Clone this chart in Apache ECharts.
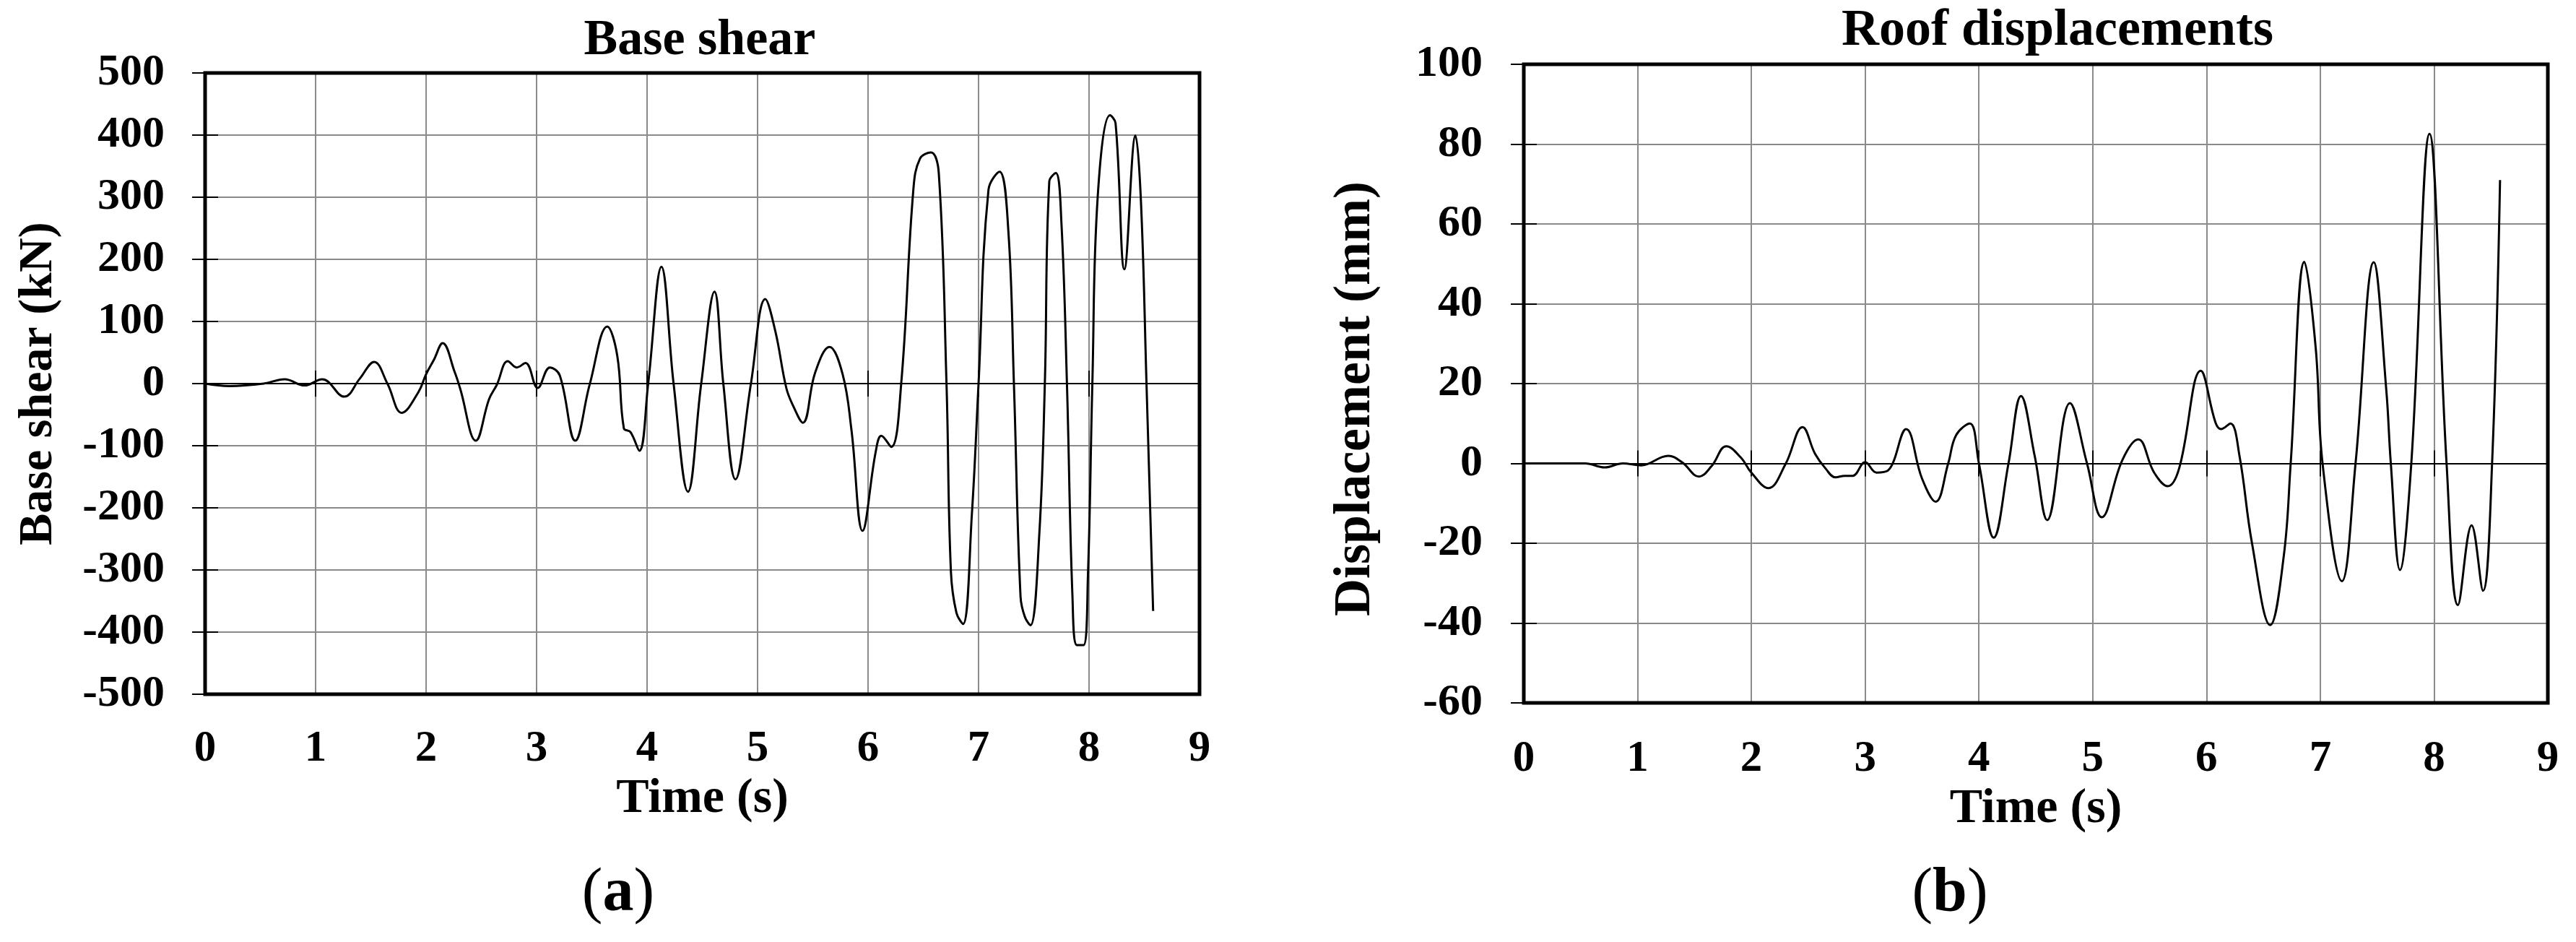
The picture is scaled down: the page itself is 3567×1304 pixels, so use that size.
<!DOCTYPE html>
<html>
<head>
<meta charset="utf-8">
<script src="https://cdn.jsdelivr.net/npm/echarts@6/dist/echarts.min.js"></script>
<style>
html,body{margin:0;padding:0;background:#fff;}
#chart{width:3567px;height:1304px;}
</style>
</head>
<body>
<div id="chart"></div>
<script>
// ---- Data ----
var shearTime = [0, 0.22, 0.53, 0.72, 0.9, 1.06, 1.26, 1.4, 1.53, 1.65, 1.78, 1.93, 2.0, 2.07, 2.15, 2.26, 2.31, 2.45, 2.57, 2.64, 2.74, 2.82, 2.9, 3.01, 3.12, 3.21, 3.35, 3.48, 3.64, 3.73, 3.79, 3.85, 3.93, 4.01, 4.13, 4.24, 4.37, 4.49, 4.61, 4.69, 4.80, 4.94, 5.07, 5.16, 5.26, 5.32, 5.41, 5.52, 5.65, 5.77, 5.85, 5.95, 6.07, 6.12, 6.21, 6.30, 6.41, 6.47, 6.57, 6.64, 6.71, 6.75, 6.80, 6.86, 6.94, 7.0, 7.09, 7.19, 7.27, 7.32, 7.38, 7.42, 7.47, 7.55, 7.60, 7.64, 7.70, 7.75, 7.80, 7.85, 7.89, 7.95, 7.99, 8.03, 8.08, 8.19, 8.24, 8.32, 8.42, 8.47, 8.52, 8.58];
var shearValue = [0, -4, 0, 7, -3, 7, -21, 8, 35, 0, -47, -14, 15, 38, 65, 18, -9, -92, -25, -2, 36, 26, 33, -7, 26, 13, -92, -2, 92, 45, -72, -78, -108, 0, 188, 0, -174, 0, 148, 0, -154, 0, 136, 85, -7, -35, -63, 17, 59, 15, -75, -237, -109, -84, -102, 0, 312, 362, 372, 339, 0, -303, -369, -387, -209, 0, 312, 341, 245, 0, -343, -376, -389, -242, 0, 325, 339, 259, 0, -343, -421, -421, -309, 0, 305, 432, 419, 184, 399, 292, 0, -366];

var dispTime = [0, 0.54, 0.71, 0.87, 1.03, 1.27, 1.39, 1.54, 1.65, 1.78, 1.91, 2.0, 2.15, 2.30, 2.45, 2.56, 2.65, 2.74, 2.82, 2.89, 3.0, 3.10, 3.20, 3.36, 3.50, 3.62, 3.73, 3.80, 3.92, 4.0, 4.13, 4.26, 4.37, 4.49, 4.60, 4.80, 4.95, 5.08, 5.26, 5.40, 5.54, 5.66, 5.76, 5.95, 6.08, 6.13, 6.21, 6.29, 6.40, 6.56, 6.68, 6.74, 6.86, 6.96, 7.02, 7.19, 7.31, 7.47, 7.58, 7.62, 7.70, 7.80, 7.96, 8.11, 8.21, 8.33, 8.43, 8.51, 8.58];
var dispValue = [0, 0, -1, 0, -0.5, 1.9, 0.3, -3.3, -0.7, 4.3, 1.4, -2.3, -6.2, -0.2, 9.1, 2.4, -1.2, -3.5, -3.1, -3.1, 0.3, -2.3, -1.8, 8.6, -3.8, -9.6, 0, 7.1, 10, 0, -18.6, 0, 16.9, 1.9, -14.2, 15.1, 0, -13.5, 0.8, 6.0, -2.3, -5.7, -1.2, 23.2, 10.2, 8.6, 10, 1.9, -20, -40.5, -23, 0, 50.5, 28.9, 0, -29.5, 0, 50.4, 18.5, 0, -26.7, 0, 82.6, 0, -35.5, -15.5, -31.9, 0, 71];

var timeTicks = {min: 0, max: 9, interval: 1};
var shearTicks = {min: -500, max: 500, interval: 100};
var dispTicks = {min: -60, max: 100, interval: 20};

var titles = ['Base shear', 'Roof displacements'];
var yNames = ['Base shear (kN)', 'Displacement (mm)'];
var xName = 'Time (s)';
var panelLetters = ['a', 'b'];

// ---- Helpers ----
function pairs(xs, ys) { return xs.map(function (x, i) { return [x, ys[i]]; }); }
var FONT = '"Liberation Serif", "Times New Roman", serif';
var gridColor = '#8a8a8a';

function xAxesFor(gridIndex, yIdx, labelMargin, nameGap) {
  var base = {gridIndex: gridIndex, type: 'value', min: timeTicks.min, max: timeTicks.max, interval: timeTicks.interval, position: 'bottom'};
  return [
    Object.assign({}, base, {
      axisLine: {show: false, onZero: false},
      axisTick: {show: false},
      axisLabel: {margin: labelMargin, fontFamily: FONT, fontWeight: 'bold', fontSize: 61, color: '#000'},
      splitLine: {show: true, showMinLine: false, showMaxLine: false, lineStyle: {color: gridColor, width: 2}},
      name: xName, nameLocation: 'middle', nameGap: nameGap,
      nameTextStyle: {fontFamily: FONT, fontWeight: 'bold', fontSize: 68, color: '#000'}
    }),
    Object.assign({}, base, {
      z: 5,
      axisLine: {show: true, onZero: true, onZeroAxisIndex: yIdx, lineStyle: {color: '#000', width: 2}},
      axisTick: {show: true, inside: false, length: 18, lineStyle: {color: '#000', width: 2}},
      axisLabel: {show: false}, splitLine: {show: false}
    }),
    Object.assign({}, base, {
      z: 5,
      axisLine: {show: false, onZero: true, onZeroAxisIndex: yIdx},
      axisTick: {show: true, inside: true, length: 18, lineStyle: {color: '#000', width: 2}},
      axisLabel: {show: false}, splitLine: {show: false}
    })
  ];
}

function yAxesFor(gridIndex, ticks, name, nameSize, labelMargin, nameGap, namePad) {
  var base = {gridIndex: gridIndex, type: 'value', min: ticks.min, max: ticks.max, interval: ticks.interval, position: 'left'};
  return [
    Object.assign({}, base, {
      axisLine: {show: false, onZero: false},
      axisTick: {show: true, inside: false, length: 18, lineStyle: {color: '#000', width: 2}},
      axisLabel: {margin: labelMargin, fontFamily: FONT, fontWeight: 'bold', fontSize: 62, color: '#000'},
      splitLine: {show: true, showMinLine: false, showMaxLine: false, lineStyle: {color: gridColor, width: 2}},
      name: name, nameLocation: 'middle', nameGap: nameGap,
      nameTextStyle: {fontFamily: FONT, fontWeight: 'bold', fontSize: nameSize, color: '#000', padding: namePad}
    }),
    Object.assign({}, base, {
      z: 5,
      axisLine: {show: false, onZero: false},
      axisTick: {show: true, inside: true, length: 18, lineStyle: {color: '#000', width: 2}},
      axisLabel: {show: false}, splitLine: {show: false}
    })
  ];
}

var chart = echarts.init(document.getElementById('chart'), null, {renderer: 'canvas'});

var option = {
  animation: false,
  backgroundColor: '#fff',
  grid: [
    {left: 284, top: 101, width: 1377, height: 860, show: true, borderWidth: 5, borderColor: '#000', backgroundColor: 'transparent', z: 6},
    {left: 2110, top: 89, width: 1418, height: 884, show: true, borderWidth: 5, borderColor: '#000', backgroundColor: 'transparent', z: 6}
  ],
  xAxis: xAxesFor(0, 0, 46, 110).concat(xAxesFor(1, 2, 48, 113)),
  yAxis: yAxesFor(0, shearTicks, yNames[0], 66, 56, 197, [0, 0, 0, 0])
    .concat(yAxesFor(1, dispTicks, yNames[1], 72, 57, 197, [0, 42, 0, 0])),
  graphic: [
    {type: 'text', x: 969, y: 22, z: 10, style: {text: titles[0], align: 'center', verticalAlign: 'top', fontFamily: FONT, fontWeight: 'bold', fontSize: 70, fill: '#000'}},
    {type: 'text', x: 2849, y: 7, z: 10, style: {text: titles[1], align: 'center', verticalAlign: 'top', fontFamily: FONT, fontWeight: 'bold', fontSize: 72, fill: '#000'}},
    {type: 'text', x: 856, y: 1195, z: 10, style: {text: '{p|(}{b|' + panelLetters[0] + '}{p|)}', align: 'center', verticalAlign: 'top',
      rich: {p: {fontFamily: FONT, fontSize: 86, fill: '#000'}, b: {fontFamily: FONT, fontWeight: 'bold', fontSize: 86, fill: '#000'}}}},
    {type: 'text', x: 2700, y: 1195, z: 10, style: {text: '{p|(}{b|' + panelLetters[1] + '}{p|)}', align: 'center', verticalAlign: 'top',
      rich: {p: {fontFamily: FONT, fontSize: 86, fill: '#000'}, b: {fontFamily: FONT, fontWeight: 'bold', fontSize: 86, fill: '#000'}}}}
  ],
  series: [
    {type: 'line', xAxisIndex: 0, yAxisIndex: 0, data: pairs(shearTime, shearValue), smooth: 0.4, showSymbol: false, z: 10,
      lineStyle: {color: '#000', width: 3}},
    {type: 'line', xAxisIndex: 3, yAxisIndex: 2, data: pairs(dispTime, dispValue), smooth: 0.4, showSymbol: false, z: 10,
      lineStyle: {color: '#000', width: 3}}
  ]
};
chart.setOption(option);
</script>
</body>
</html>
